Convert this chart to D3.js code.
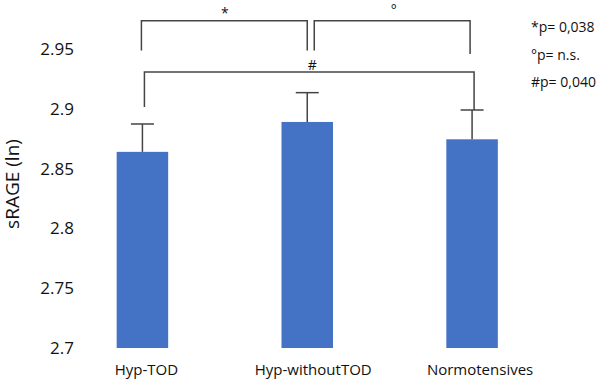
<!DOCTYPE html>
<html>
<head>
<meta charset="utf-8">
<script src="https://cdn.jsdelivr.net/npm/d3@7"></script>
<style>
    body { margin: 0; background: #fff; }
    text { font-family: "Open Sans", "Noto Sans", sans-serif; fill: #111; }
</style>
</head>
<body>
<div id="chart"></div>
<script>
// sRAGE (ln) by group, bars with upper error bars
const groups = ["Hyp-TOD", "Hyp-withoutTOD", "Normotensives"];
const means = [2.864, 2.889, 2.8745];
const upper = [2.8873, 2.9135, 2.899];
const yTicks = [2.7, 2.75, 2.8, 2.85, 2.9, 2.95];
const yTickLabels = ["2.7", "2.75", "2.8", "2.85", "2.9", "2.95"];

// significance brackets: from group, to group, top level, left foot, right foot
const brackets = [
    { from: "Hyp-TOD", to: "Hyp-withoutTOD", top: 2.9737, left: 2.9487, right: 2.9487, label: "*", dxA: -1, dxB: 0 },
    { from: "Hyp-withoutTOD", to: "Normotensives", top: 2.9737, left: 2.9487, right: 2.9458, label: "°", dxA: 7, dxB: -2 },
    { from: "Hyp-TOD", to: "Normotensives", top: 2.9308, left: 2.9015, right: 2.899, label: "#", dxA: 2, dxB: 2 }
];
const pLabels = ["*p= 0,038", "°p= n.s.", "#p= 0,040"];

const width = 598, height = 380;

const svg = d3.select("#chart").append("svg")
    .attr("width", width)
    .attr("height", height);

const x = d3.scaleBand()
    .domain(groups)
    .range([60, 554.5])
    .paddingInner(0.6875)
    .paddingOuter(0.34375);

const y = d3.scaleLinear()
    .domain([2.7, 2.95])
    .range([348, 49]);

const cx = g => x(g) + x.bandwidth() / 2;

// y axis, labels only
const yAxis = d3.axisLeft(y)
    .tickValues(yTicks)
    .tickFormat((d, i) => yTickLabels[i])
    .tickSize(0)
    .tickPadding(0);

svg.append("g")
    .attr("class", "y-axis")
    .attr("transform", "translate(74,0)")
    .call(yAxis)
    .call(g => g.select(".domain").remove())
    .selectAll("text")
    .style("font-size", "17px")
    .attr("fill", "#111");

svg.append("text")
    .attr("transform", "rotate(-90)")
    .attr("x", -184)
    .attr("y", 19)
    .attr("text-anchor", "middle")
    .style("font-size", "19px")
    .text("sRAGE (ln)");

// bars
svg.selectAll("rect.bar")
    .data(groups)
    .enter().append("rect")
    .attr("class", "bar")
    .attr("x", d => x(d))
    .attr("width", x.bandwidth())
    .attr("y", (d, i) => y(means[i]))
    .attr("height", (d, i) => y(2.7) - y(means[i]))
    .attr("fill", "#4472C4");

// error bars
const err = svg.append("g")
    .attr("stroke", "#444")
    .attr("stroke-width", 1.5);

groups.forEach((g, i) => {
    err.append("line")
        .attr("x1", cx(g)).attr("x2", cx(g))
        .attr("y1", y(means[i])).attr("y2", y(upper[i]));
    err.append("line")
        .attr("x1", cx(g) - 11.5).attr("x2", cx(g) + 11.5)
        .attr("y1", y(upper[i])).attr("y2", y(upper[i]));
});

// category labels
svg.selectAll("text.cat")
    .data(groups)
    .enter().append("text")
    .attr("class", "cat")
    .attr("x", (d, i) => cx(d) + 4 + i * 2)
    .attr("y", 375)
    .attr("text-anchor", "middle")
    .style("font-size", "15px")
    .text(d => d);

// brackets
const br = svg.append("g")
    .attr("fill", "none")
    .attr("stroke", "#444")
    .attr("stroke-width", 1.5);

brackets.forEach(b => {
    const xa = cx(b.from) + b.dxA, xb = cx(b.to) + b.dxB;
    br.append("path")
        .attr("d", d3.line()([[xa, y(b.left)], [xa, y(b.top)], [xb, y(b.top)], [xb, y(b.right)]]));
});

svg.append("text")
    .attr("x", (cx(groups[0]) + cx(groups[1])) / 2)
    .attr("y", y(2.9737) - 3)
    .attr("text-anchor", "middle")
    .style("font-size", "14px")
    .text("*");

svg.append("text")
    .attr("x", (cx(groups[1]) + cx(groups[2])) / 2 + 4)
    .attr("y", y(2.9737) - 6)
    .attr("text-anchor", "middle")
    .style("font-size", "14px")
    .text("°");

svg.append("text")
    .attr("x", cx(groups[1]) + 5)
    .attr("y", y(2.9308) - 2)
    .attr("text-anchor", "middle")
    .style("font-size", "14px")
    .text("#");

// p-value legend
svg.selectAll("text.pval")
    .data(pLabels)
    .enter().append("text")
    .attr("class", "pval")
    .attr("x", 531)
    .attr("y", (d, i) => 32 + i * 27.5)
    .style("font-size", "14px")
    .text(d => d);
</script>
</body>
</html>
